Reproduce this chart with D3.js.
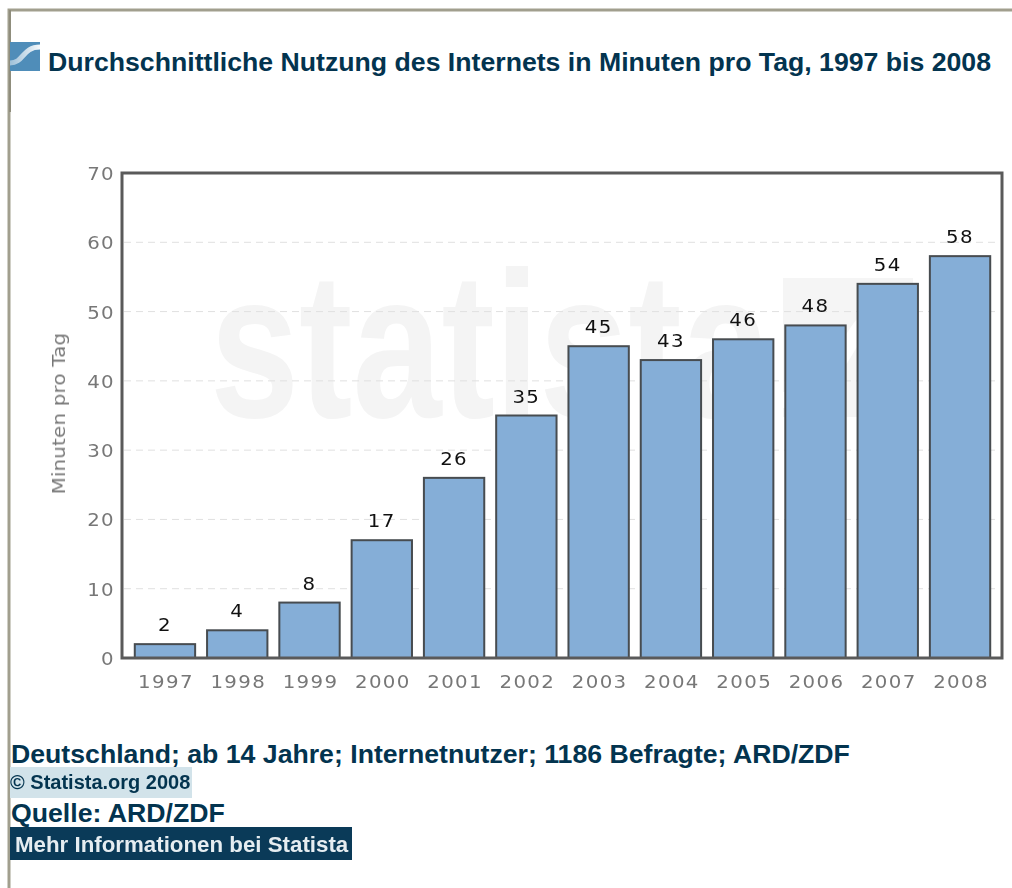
<!doctype html>
<html>
<head>
<meta charset="utf-8">
<title>Durchschnittliche Nutzung des Internets</title>
<script src="https://cdn.jsdelivr.net/npm/d3@7"></script>
<style>
  html, body { margin: 0; background: #fff; }
  svg { display: block; }
  .soft { filter: blur(0.45px); }
</style>
</head>
<body>
<script>
const years = ["1997", "1998", "1999", "2000", "2001", "2002", "2003", "2004", "2005", "2006", "2007", "2008"];
const minutes = [2, 4, 8, 17, 26, 35, 45, 43, 46, 48, 54, 58];
const yTicks = [0, 10, 20, 30, 40, 50, 60, 70];

const navy = "#03344f";
const rim = "#a19f8e";

const svg = d3.select("body").append("svg")
    .attr("width", 1012)
    .attr("height", 888);

// page border, thicker on the upper left
svg.append("path")
    .attr("d", "M9,888V10H1012")
    .attr("fill", "none")
    .attr("stroke", rim)
    .attr("stroke-width", 3);
svg.append("path")
    .attr("d", "M10,10V112")
    .attr("stroke", "#8f8d7c")
    .attr("stroke-width", 2);

// logo
const grad = svg.append("defs").append("linearGradient").attr("id", "wave");
grad.append("stop").attr("offset", "0").attr("stop-color", "#fff").attr("stop-opacity", 0.45);
grad.append("stop").attr("offset", "1").attr("stop-color", "#fff").attr("stop-opacity", 0.95);
svg.append("rect")
    .attr("x", 10).attr("y", 42)
    .attr("width", 30).attr("height", 29)
    .attr("fill", "#4f8db9");
svg.append("path")
    .attr("class", "soft")
    .attr("d", "M10,63C24,63,22,47,40,47")
    .attr("fill", "none")
    .attr("stroke", "url(#wave)")
    .attr("stroke-width", 5);

svg.append("text")
    .attr("x", 48).attr("y", 71)
    .attr("font-family", "Liberation Sans")
    .attr("font-weight", "bold")
    .attr("font-size", 26.67)
    .attr("fill", navy)
    .text("Durchschnittliche Nutzung des Internets in Minuten pro Tag, 1997 bis 2008");

// chart
const x = d3.scaleBand().domain(years).range([129, 996]).paddingInner(0.165).paddingOuter(0.08);
const y = d3.scaleLinear().domain([0, 70]).range([658, 173]);

// watermark behind the bars
svg.append("text")
    .attr("class", "soft")
    .attr("transform", "translate(210,417) scale(0.77,1)")
    .attr("font-family", "Liberation Sans")
    .attr("font-weight", "bold")
    .attr("font-size", 208)
    .attr("fill", "#f4f4f4")
    .text("statista");
svg.append("rect")
    .attr("x", 783).attr("y", 278)
    .attr("width", 130).attr("height", 139)
    .attr("fill", "#f5f5f5");
svg.append("path")
    .attr("d", "M783,400C850,400,840,300,913,300")
    .attr("fill", "none")
    .attr("stroke", "#fff")
    .attr("stroke-width", 16);

// the reference's labels are wider than DejaVu, so stretch them a little
const wide = (px, py) => `translate(${px},${py}) scale(1.13,1)`;
const chartFont = g => g
    .attr("class", "soft")
    .attr("font-family", "DejaVu Sans")
    .attr("font-size", 17.5)
    .attr("letter-spacing", 1.2);

svg.append("g")
    .selectAll("line")
    .data(yTicks.filter(d => d > 0 && d < 70))
    .join("line")
      .attr("x1", 124).attr("x2", 1000)
      .attr("y1", d => y(d)).attr("y2", d => y(d))
      .attr("stroke", "#e0e0e0")
      .attr("stroke-dasharray", "7,5");

svg.append("g")
    .selectAll("rect")
    .data(minutes)
    .join("rect")
      .attr("x", (d, i) => x(years[i]))
      .attr("y", d => y(d))
      .attr("width", x.bandwidth())
      .attr("height", d => y(0) - y(d))
      .attr("fill", "#85aed7")
      .attr("stroke", "#474c50")
      .attr("stroke-width", 2);

svg.append("rect")
    .attr("x", 122).attr("y", 173)
    .attr("width", 880).attr("height", 485)
    .attr("fill", "none")
    .attr("stroke", "#5a5a5a")
    .attr("stroke-width", 3);

svg.append("g")
    .call(chartFont)
    .attr("fill", "#111")
    .attr("text-anchor", "middle")
  .selectAll("text")
  .data(minutes)
  .join("text")
    .attr("transform", (d, i) => wide(x(years[i]) + x.bandwidth() / 2, y(d) - 13))
    .text(d => d);

svg.append("g")
    .call(chartFont)
    .attr("fill", "#777")
    .attr("text-anchor", "end")
  .selectAll("text")
  .data(yTicks)
  .join("text")
    .attr("transform", d => wide(115, y(d) + 7))
    .text(d => d);

svg.append("g")
    .call(chartFont)
    .attr("fill", "#777")
    .attr("text-anchor", "middle")
  .selectAll("text")
  .data(years)
  .join("text")
    .attr("transform", d => wide(x(d) + x.bandwidth() / 2 + 1, 688))
    .text(d => d);

svg.append("text")
    .attr("transform", "translate(65,413.5) rotate(-90) scale(1.13,1)")
    .call(chartFont)
    .attr("letter-spacing", 0.2)
    .attr("text-anchor", "middle")
    .attr("fill", "#777")
    .text("Minuten pro Tag");

// footer
const footer = svg.append("g")
    .attr("font-family", "Liberation Sans")
    .attr("font-weight", "bold")
    .attr("fill", navy);

footer.append("text")
    .attr("x", 11).attr("y", 763)
    .attr("font-size", 26.67)
    .text("Deutschland; ab 14 Jahre; Internetnutzer; 1186 Befragte; ARD/ZDF");

footer.append("rect")
    .attr("x", 10).attr("y", 767)
    .attr("width", 182).attr("height", 31)
    .attr("fill", "#d2e3ea");
footer.append("text")
    .attr("class", "soft")
    .attr("x", 10).attr("y", 789)
    .attr("font-size", 20)
    .text("© Statista.org 2008");

footer.append("text")
    .attr("x", 11).attr("y", 822)
    .attr("font-size", 26.67)
    .text("Quelle: ARD/ZDF");

footer.append("rect")
    .attr("x", 10).attr("y", 827)
    .attr("width", 342).attr("height", 33)
    .attr("fill", "#0a3a58");
footer.append("text")
    .attr("class", "soft")
    .attr("x", 15).attr("y", 852)
    .attr("font-size", 22.3)
    .attr("fill", "#e6edf1")
    .text("Mehr Informationen bei Statista");
</script>
</body>
</html>
